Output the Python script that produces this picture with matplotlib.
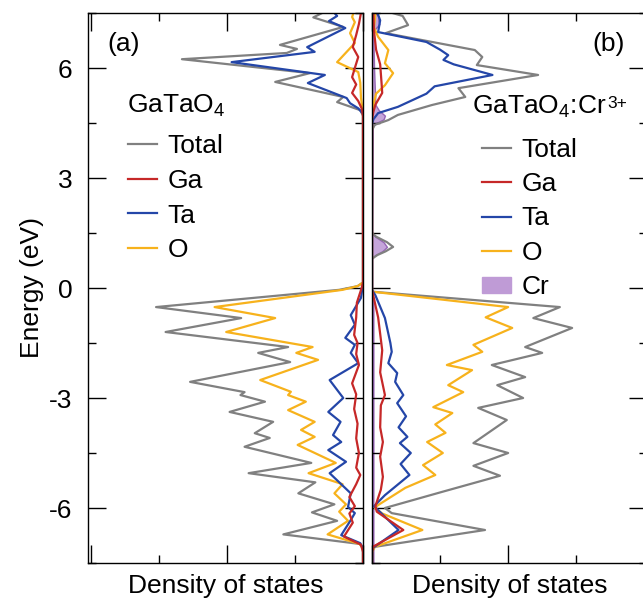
import matplotlib
matplotlib.use("Agg")
import matplotlib.pyplot as plt
from matplotlib.lines import Line2D
from matplotlib.patches import Patch
from matplotlib.ticker import MultipleLocator

plt.rcParams['font.family'] = ['Liberation Sans', 'DejaVu Sans']
plt.rcParams['mathtext.default'] = 'regular'
plt.rcParams['axes.unicode_minus'] = False

# ---------------- data: panel (a) GaTaO4 ----------------
e_tot_a = [7.5, 7.38, 7.12, 6.63, 6.52, 6.41, 6.24, 5.86, 5.62, 5.21, 5.07, 4.85, 4.7,
           0.15, 0.05, -0.05, -0.52, -0.82, -1.2, -1.61, -1.77, -2.02, -2.56, -2.84, -2.92,
           -3.1, -3.38, -3.65, -3.96, -4.09, -4.33, -4.77, -5.05, -5.3, -5.6, -5.9, -6.12,
           -6.35, -6.72, -6.98, -7.1, -7.5]
v_tot_a = [0.6, 0.73, 0.29, 1.22, 0.97, 1.12, 2.66, 0.78, 1.29, 0.29, 0.38, 0.04, 0.0,
           0.0, 0.08, 0.35, 3.04, 1.79, 2.9, 1.10, 1.54, 1.07, 2.54, 1.74, 1.8,
           1.44, 1.96, 1.32, 1.59, 1.37, 1.74, 0.76, 1.68, 0.7, 0.95, 0.42, 0.75,
           0.38, 1.17, 0.05, 0.0, 0.0]

e_o_a = [7.5, 7.39, 7.25, 6.95, 6.68, 6.16, 5.89, 5.6, 5.2, 4.9, 4.7,
         0.15, 0.05, -0.05, -0.52, -0.82, -1.2, -1.61, -1.77, -1.96, -2.51, -2.83, -2.92,
         -3.1, -3.33, -3.65, -3.87, -4.06, -4.28, -4.77, -5.05, -5.35, -5.6, -5.9, -6.1,
         -6.35, -6.72, -6.98, -7.1, -7.5]
v_o_a = [0.14, 0.16, 0.12, 0.19, 0.12, 0.38, 0.07, 0.04, 0.03, 0.01, 0.0,
         0.0, 0.08, 0.3, 2.18, 1.29, 2.01, 0.74, 0.98, 0.66, 1.51, 1.06, 1.1,
         0.84, 1.1, 0.71, 0.91, 0.71, 0.96, 0.40, 0.80, 0.3, 0.42, 0.25, 0.35,
         0.22, 0.52, 0.05, 0.0, 0.0]

e_ta_a = [7.5, 7.42, 7.28, 7.09, 6.57, 6.44, 6.16, 5.81, 5.59, 5.18, 5.04, 4.9, 4.75,
          0.1, -0.27, -0.74, -1.0, -1.36, -1.55, -1.77, -2.05, -2.51, -3.0, -3.38, -3.65,
          -4.01, -4.2, -4.42, -4.74, -5.05, -5.6, -5.97, -6.14, -6.33, -6.74, -6.96, -7.1, -7.5]
v_ta_a = [0.42, 0.38, 0.5, 0.26, 0.82, 0.71, 1.93, 0.56, 0.81, 0.24, 0.19, 0.07, 0.0,
          0.0, 0.03, 0.18, 0.12, 0.26, 0.12, 0.18, 0.07, 0.49, 0.29, 0.51, 0.33,
          0.44, 0.32, 0.51, 0.25, 0.49, 0.18, 0.22, 0.12, 0.18, 0.32, 0.04, 0.0, 0.0]

e_ga_a = [7.5, 7.2, 6.9, 6.57, 6.3, 6.0, 5.75, 5.55, 5.32, 5.1, 4.9, 4.7,
          0.15, 0.0, -0.4, -0.8, -1.28, -1.5, -1.8, -2.1, -2.6, -2.9, -3.3, -3.7, -4.1,
          -4.5, -4.9, -5.1, -5.35, -5.7, -5.95, -6.15, -6.4, -6.78, -7.0, -7.2, -7.5]
v_ga_a = [0.03, 0.06, 0.1, 0.15, 0.07, 0.12, 0.16, 0.1, 0.16, 0.07, 0.02, 0.0,
          0.0, 0.02, 0.09, 0.1, 0.13, 0.08, 0.1, 0.06, 0.16, 0.1, 0.13, 0.08, 0.1,
          0.06, 0.1, 0.04, 0.1, 0.2, 0.12, 0.2, 0.15, 0.28, 0.03, 0.0, 0.0]

# ---------------- data: panel (b) GaTaO4:Cr3+ ----------------
e_tot_b = [7.5, 7.42, 7.17, 6.95, 6.49, 6.3, 6.08, 5.81, 5.45, 5.21, 4.99, 4.72, 4.58, 4.45, 4.3,
           1.5, 1.4, 1.25, 1.12, 1.0, 0.9, 0.8,
           -0.1, -0.52, -0.82, -1.09, -1.61, -1.77, -2.1, -2.43, -2.65, -3.0, -3.27, -3.6,
           -4.23, -4.5, -4.85, -5.12, -5.56, -6.0, -6.14, -6.6, -7.06, -7.2, -7.5]
v_tot_b = [0.3, 0.45, 0.53, 0.2, 1.51, 1.62, 1.54, 2.44, 1.27, 1.37, 0.88, 0.38, 0.24, 0.04, 0.0,
           0.0, 0.06, 0.22, 0.31, 0.2, 0.08, 0.0,
           0.0, 2.76, 2.37, 2.94, 2.25, 2.5, 1.76, 2.25, 1.84, 2.22, 1.56, 1.98,
           1.49, 2.0, 1.49, 1.88, 1.03, 0.19, 0.29, 1.66, 0.04, 0.0, 0.0]

e_o_b = [7.5, 7.3, 7.1, 6.85, 6.49, 6.13, 5.86, 5.53, 5.3, 5.0, 4.7,
         -0.1, -0.52, -0.8, -1.09, -1.55, -1.74, -2.1, -2.24, -2.65, -2.84, -3.25, -3.41,
         -3.72, -3.95, -4.2, -4.5, -4.83, -5.1, -5.45, -5.92, -6.0, -6.15, -6.6, -7.06, -7.2, -7.5]
v_o_b = [0.05, 0.04, 0.03, 0.09, 0.24, 0.19, 0.31, 0.19, 0.06, 0.02, 0.0,
         0.0, 2.0, 1.67, 2.06, 1.49, 1.62, 1.1, 1.47, 1.12, 1.34, 0.9, 1.18,
         0.93, 1.08, 0.81, 1.04, 0.75, 0.93, 0.49, 0.09, 0.04, 0.15, 0.74, 0.04, 0.0, 0.0]

e_ta_b = [7.5, 7.3, 6.98, 6.71, 6.5, 6.35, 6.22, 6.1, 5.81, 5.5, 5.4, 5.3, 4.94, 4.77, 4.6, 4.45,
          -0.05, -0.2, -0.82, -1.5, -1.74, -2.05, -2.32, -2.56, -2.92, -3.14, -3.5, -3.8,
          -4.06, -4.23, -4.5, -4.8, -5.1, -5.65, -5.95, -6.6, -7.08, -7.2, -7.5]
v_ta_b = [0.08, 0.12, 0.09, 0.8, 1.0, 1.12, 1.05, 1.2, 1.77, 0.92, 0.86, 0.8, 0.38, 0.09, 0.02, 0.0,
          0.0, 0.05, 0.19, 0.27, 0.29, 0.24, 0.37, 0.34, 0.46, 0.37, 0.5, 0.39,
          0.52, 0.41, 0.57, 0.42, 0.55, 0.19, 0.03, 0.39, 0.02, 0.0, 0.0]

e_ga_b = [7.5, 7.0, 6.5, 6.1, 5.6, 5.32, 5.0, 4.8, 4.6,
          -0.05, -0.8, -1.7, -2.3, -2.92, -3.2, -3.8, -4.2, -4.6, -5.15, -5.5, -5.95, -6.1,
          -6.6, -7.05, -7.2, -7.5]
v_ga_b = [0.02, 0.03, 0.06, 0.12, 0.14, 0.15, 0.05, 0.02, 0.0,
          0.0, 0.09, 0.15, 0.12, 0.19, 0.13, 0.12, 0.16, 0.12, 0.16, 0.13, 0.05, 0.07,
          0.46, 0.02, 0.0, 0.0]

e_cr_b = [7.5, 7.4, 7.3, 7.2, 7.05, 6.9, 6.0, 5.5, 5.0, 4.85, 4.7, 4.6, 4.5, 4.4,
          1.5, 1.4, 1.25, 1.12, 1.0, 0.9, 0.8, -0.1, -0.3, -7.5]
v_cr_b = [0.05, 0.1, 0.09, 0.11, 0.04, 0.02, 0.03, 0.04, 0.05, 0.1, 0.19, 0.17, 0.06, 0.01,
          0.0, 0.05, 0.17, 0.22, 0.15, 0.05, 0.0, 0.0, 0.02, 0.02]

labels = ["Total", "Ga", "Ta", "O", "Cr"]
c_tot, c_ga, c_ta, c_o = "#808080", "#c62828", "#2446a8", "#f7b21c"
c_cr_fill, c_cr_edge = "#bf9bd6", "#8e5bb0"

fig = plt.figure(figsize=(6.43, 6.05), dpi=100)
axL = fig.add_axes([88/643, 1-563/605, 275/643, 550/605])
axR = fig.add_axes([372/643, 1-563/605, 275/643, 550/605])

lw = 1.6
for ax, et, vt, eo, vo, eta, vta, ega, vga in [
        (axL, e_tot_a, v_tot_a, e_o_a, v_o_a, e_ta_a, v_ta_a, e_ga_a, v_ga_a),
        (axR, e_tot_b, v_tot_b, e_o_b, v_o_b, e_ta_b, v_ta_b, e_ga_b, v_ga_b)]:
    ax.plot(vt, et, color=c_tot, lw=lw, solid_joinstyle='round')
    ax.plot(vo, eo, color=c_o, lw=lw, solid_joinstyle='round')
    ax.plot(vta, eta, color=c_ta, lw=lw, solid_joinstyle='round')
    ax.plot(vga, ega, color=c_ga, lw=lw, solid_joinstyle='round')

axR.fill_betweenx(e_cr_b, 0, v_cr_b, facecolor=c_cr_fill, edgecolor=c_cr_edge, lw=1.0, alpha=0.9)

for ax in (axL, axR):
    ax.set_ylim(-7.5, 7.5)
    ax.yaxis.set_major_locator(MultipleLocator(3))
    ax.yaxis.set_minor_locator(MultipleLocator(1.5))
    ax.xaxis.set_major_locator(MultipleLocator(2))
    ax.xaxis.set_minor_locator(MultipleLocator(1))
    ax.tick_params(which='both', direction='in', top=True, right=True,
                   labelbottom=False, width=1.0)
    ax.tick_params(which='major', length=13)
    ax.tick_params(which='minor', length=6)
    for s in ax.spines.values():
        s.set_linewidth(1.0)
    ax.set_xlabel("Density of states", fontsize=19, labelpad=8)

axL.set_xlim(4.04, 0)
axR.set_xlim(0, 4.04)
axL.tick_params(axis='y', labelsize=19, pad=11)
axR.tick_params(axis='y', labelleft=False)
axL.set_ylabel("Energy (eV)", fontsize=19, labelpad=4)

axL.text(0.069, 0.944, "(a)", transform=axL.transAxes, fontsize=19, va='center', ha='left')
axR.text(0.92, 0.944, "(b)", transform=axR.transAxes, fontsize=19, va='center', ha='right')

axL.text(0.142, 0.8185, "GaTaO$_4$", transform=axL.transAxes, fontsize=19, va='baseline', ha='left')
tR = axR.text(0.364, 0.817, "GaTaO$_4$:Cr", transform=axR.transAxes, fontsize=19,
              va='baseline', ha='left')
axR.annotate("3+", xy=(1.0, 1.0), xycoords=tR, xytext=(0.3, -1.5), textcoords='offset points',
             fontsize=12.5, va='top', ha='left')

hL = [Line2D([], [], color=c, lw=lw) for c in (c_tot, c_ga, c_ta, c_o)]
axL.legend(hL, labels[:4], loc='upper left', bbox_to_anchor=(0.145, 0.780), frameon=False,
           borderpad=0, borderaxespad=0, handlelength=1.1, handletextpad=0.4,
           labelspacing=0.41, fontsize=19)
hR = hL + [Patch(facecolor=c_cr_fill, edgecolor=c_cr_fill)]
axR.legend(hR, labels, loc='upper left', bbox_to_anchor=(0.40, 0.773), frameon=False,
           borderpad=0, borderaxespad=0, handlelength=1.1, handletextpad=0.4,
           handleheight=0.55, labelspacing=0.39, fontsize=19)

fig.savefig("out.png", dpi=100)
